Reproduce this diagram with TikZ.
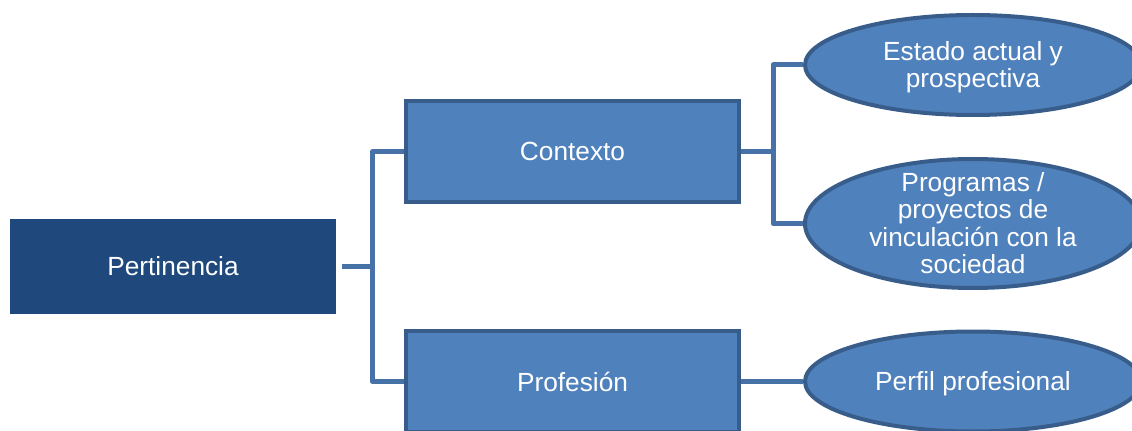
\documentclass[tikz,border=0pt]{standalone}
\usepackage{fontspec}
\setmainfont{Liberation Sans}
\usetikzlibrary{shapes.geometric}
\definecolor{darkfill}{HTML}{1F497D}
\definecolor{midfill}{HTML}{4F81BD}
\definecolor{midline}{HTML}{385D8A}
\definecolor{connline}{HTML}{4672A8}
\newcommand{\elltext}[1]{\raisebox{-8pt}[0pt][0pt]{\makebox[0pt]{\begin{tabular}{@{}c@{}}#1\end{tabular}}}}
\tikzset{
  basefont/.style={font=\fontsize{19.7}{20.5}\selectfont, text=white},
  mainbox/.style={basefont, rectangle, fill=darkfill, inner sep=0pt,
    minimum width=244.5pt, minimum height=71.25pt},
  subbox/.style={basefont, rectangle, fill=midfill, draw=midline, line width=3pt,
    inner sep=0pt, minimum width=249.75pt, minimum height=75.75pt},
  leaf/.style={basefont, ellipse, fill=midfill, draw=midline, line width=3pt,
    inner sep=0pt, minimum width=252pt, minimum height=75pt},
  conn/.style={draw=connline, line width=3.75pt, line join=round},
}
\begin{document}
\begin{tikzpicture}[x=0.75pt,y=-0.75pt]
\useasboundingbox (0,0) rectangle (1132,431);
\node[mainbox] (pert) at (173,266.5) {Pertinencia};
\node[subbox] (ctx) at (572.5,151.5) {Contexto};
\node[subbox] (prof) at (572.5,381.5) {Profesión};
\node[leaf] (ell1) at (973,65) {\elltext{Estado actual y\\prospectiva}};
\node[leaf, minimum height=96.75pt] (ell2) at (973,223.5) {\elltext{Programas /\\proyectos de\\vinculación con la\\sociedad}};
\node[leaf] (ell3) at (973,381.5) {\elltext{Perfil profesional}};
\coordinate (j1) at (372.5,266.5);
\coordinate (j2) at (773,151.5);
\draw[conn, shorten <=4.5pt] (pert.east) -- (j1);
\draw[conn] (j1) |- (ctx.west);
\draw[conn] (j1) |- (prof.west);
\draw[conn] (ctx.east) -- (j2);
\draw[conn] (j2) |- (ell1.west);
\draw[conn] (j2) |- (ell2.west);
\draw[conn] (prof.east) -- (ell3.west);
\end{tikzpicture}
\end{document}
